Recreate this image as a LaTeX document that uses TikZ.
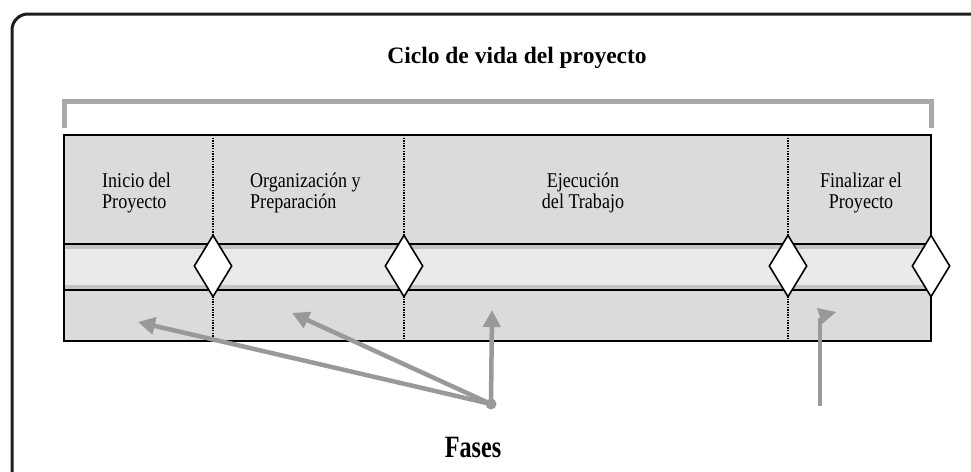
\documentclass[tikz,border=0pt]{standalone}
\usepackage{fontspec}
\setmainfont{Liberation Serif}
\newfontfamily\labelfont[FakeStretch=0.86]{Liberation Serif}
\newfontfamily\fasesfont[FakeStretch=0.78]{Liberation Serif}
\usetikzlibrary{shapes.geometric,arrows.meta}
\definecolor{boxgray}{HTML}{DADBDC}
\definecolor{bandlight}{HTML}{EAEAEA}
\definecolor{bandedge}{HTML}{C4C4C4}
\definecolor{arrowgray}{HTML}{999999}
\definecolor{bracketgray}{HTML}{A9A9A9}
\definecolor{framecolor}{HTML}{1E1E1E}

\begin{document}
\begin{tikzpicture}[x=1pt,y=-1pt,
	milestone/.style={diamond,draw,fill=white,line width=1.6pt,inner sep=0pt,minimum width=38pt,minimum height=62pt},
	phase/.style={font=\labelfont\fontsize{21}{21.5}\selectfont,inner sep=0pt},
	divider/.style={line width=1.4pt,dash pattern=on 1.4pt off 1.2pt},
	pointer/.style={arrowgray,line width=4.5pt,-{Triangle[length=17pt,width=17pt]}}]
	\useasboundingbox (0,0) rectangle (971,471);
	\clip (0,0) rectangle (971,471);
	\draw[line width=3pt,color=framecolor,rounded corners=16pt] (12,14) rectangle (1020,520);
	\node[font=\bfseries\fontsize{23.5}{26}\selectfont,anchor=base] (title) at (517,63) {Ciclo de vida del proyecto};
	\draw[bracketgray,line width=5pt] (64,128) -- (64,101) -- (931,101) -- (931,128);
	\node[fill=boxgray,minimum width=867pt,minimum height=206pt,inner sep=0pt] (stage) at (497.5,238) {};
	\fill[bandlight] (64,244) rectangle (931,290);
	\fill[bandedge] (64,244) rectangle (931,249);
	\fill[bandedge] (64,285) rectangle (931,290);
	\draw[line width=1.8pt] (64,244) -- (931,244) (64,290) -- (931,290);
	\foreach \x in {213,404,788}
		\draw[divider] (\x,135) -- (\x,341);
	\draw[line width=2pt] (stage.north west) rectangle (stage.south east);
	\node[milestone] (m1) at (213,266) {};
	\node[milestone] (m2) at (404,266) {};
	\node[milestone] (m3) at (788,266) {};
	\node[milestone] (m4) at (931,266) {};
	\node[phase,align=left,anchor=west] (inicio) at (102,193) {Inicio del\\Proyecto};
	\node[phase,align=left,anchor=west] (organizacion) at (250,193) {Organización y\\Preparación};
	\node[phase,align=center] (ejecucion) at (583,193) {Ejecución\\del Trabajo};
	\node[phase,align=center] (finalizar) at (861,193) {Finalizar el\\Proyecto};
	\node[circle,fill=arrowgray,inner sep=0pt,minimum size=11pt] (hub) at (491,404) {};
	\coordinate (t1) at (138,322);
	\coordinate (t2) at (292,313);
	\coordinate (t3) at (492,310);
	\draw[pointer] (hub.center) -- (t1);
	\draw[pointer] (hub.center) -- (t2);
	\draw[pointer] (hub.center) -- (t3);
	\coordinate (base4) at (820,406);
	\coordinate (t4) at (820,318);
	\draw[arrowgray,line width=4.5pt] (base4) -- (t4);
	\fill[arrowgray] (t4) ++(-3,-10) -- ++(19,4) -- ++(-14,12) -- cycle;
	\node[font=\fasesfont\bfseries\fontsize{31}{34}\selectfont,anchor=base] (fases) at (473,457) {Fases};
\end{tikzpicture}
\end{document}
